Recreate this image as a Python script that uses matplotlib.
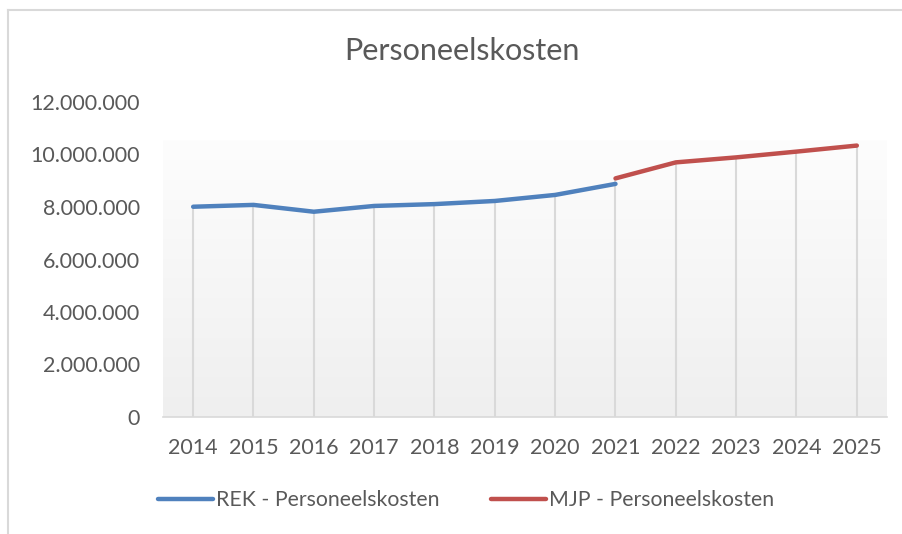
import matplotlib
matplotlib.use("Agg")
import matplotlib.pyplot as plt
import numpy as np
from matplotlib.lines import Line2D
from matplotlib.colors import LinearSegmentedColormap

plt.rcParams['font.family'] = ['Lato', 'DejaVu Sans']

years = ["2014", "2015", "2016", "2017", "2018", "2019", "2020", "2021",
         "2022", "2023", "2024", "2025"]
rek_values = [8010000, 8080000, 7820000, 8040000, 8110000, 8230000, 8460000, 8880000]
mjp_values = [9090000, 9700000, 9890000, 10110000, 10340000]
rek_label = "REK - Personeelskosten"
mjp_label = "MJP - Personeelskosten"
title = "Personeelskosten"
yticks = [0, 2000000, 4000000, 6000000, 8000000, 10000000, 12000000]

TXT = "#595959"
BLUE = "#4F81BD"
RED = "#C0504D"

fig = plt.figure(figsize=(9.03, 5.34), dpi=100)
ax = fig.add_axes([163/903, 1-417/534, (887-163)/903, (417-102)/534])

x_rek = np.arange(len(rek_values))
x_mjp = np.arange(len(rek_values)-1, len(rek_values)-1+len(mjp_values))

# gradient background (plot area starts a little below the top tick)
grad = np.linspace(0, 1, 256).reshape(-1, 1)
cmap = LinearSegmentedColormap.from_list("g", ["#fdfdfd", "#efefef"])
ax.imshow(grad, aspect='auto', cmap=cmap, extent=[-0.5, len(years)-0.5, 0, 10550000],
          origin='upper', zorder=0)

# drop lines
tops = {}
for xi, v in zip(x_rek, rek_values):
    tops[xi] = max(tops.get(xi, 0), v)
for xi, v in zip(x_mjp, mjp_values):
    tops[xi] = max(tops.get(xi, 0), v)
xs = sorted(tops)
ax.vlines(xs, 0, [tops[k] for k in xs], color="#d9d9d9", lw=1.5, zorder=1)

ax.plot(x_rek, rek_values, color=BLUE, lw=3.2, solid_capstyle='round', zorder=3)
ax.plot(x_mjp, mjp_values, color=RED, lw=3.2, solid_capstyle='round', zorder=3)

ax.set_xlim(-0.5, len(years)-0.5)
ax.set_ylim(0, 12000000)
ax.set_yticks(yticks)
ax.set_yticklabels([f"{v:,}".replace(",", ".") for v in yticks])
ax.set_xticks(np.arange(len(years)))
ax.set_xticklabels(years)
ax.tick_params(axis='both', length=0, labelsize=15.5, labelcolor=TXT)
ax.tick_params(axis='y', pad=16.5)
ax.tick_params(axis='x', pad=15)
for s in ['top', 'right', 'left']:
    ax.spines[s].set_visible(False)
ax.spines['bottom'].set_color("#d9d9d9")
ax.spines['bottom'].set_linewidth(1.2)

fig.text(462/903, 1-51/534, title, ha='center', va='center', fontsize=22, color=TXT)

handles = [Line2D([], [], color=BLUE, lw=3.2, solid_capstyle='round'),
           Line2D([], [], color=RED, lw=3.2, solid_capstyle='round')]
fig.legend(handles, [rek_label, mjp_label], loc='center', bbox_to_anchor=(466/903, 1-500/534),
           ncol=2, frameon=False, fontsize=15.3, labelcolor=TXT, handlelength=2.6,
           handletextpad=0.15, columnspacing=2.4)

# chart border (left and top)
fig.add_artist(Line2D([8/903, 8/903], [0, 1-10/534], color="#d9d9d9", lw=1.5,
                      transform=fig.transFigure))
fig.add_artist(Line2D([8/903, 1], [1-10/534, 1-10/534], color="#d9d9d9", lw=1.5,
                      transform=fig.transFigure))

fig.savefig("out.png", dpi=100)
